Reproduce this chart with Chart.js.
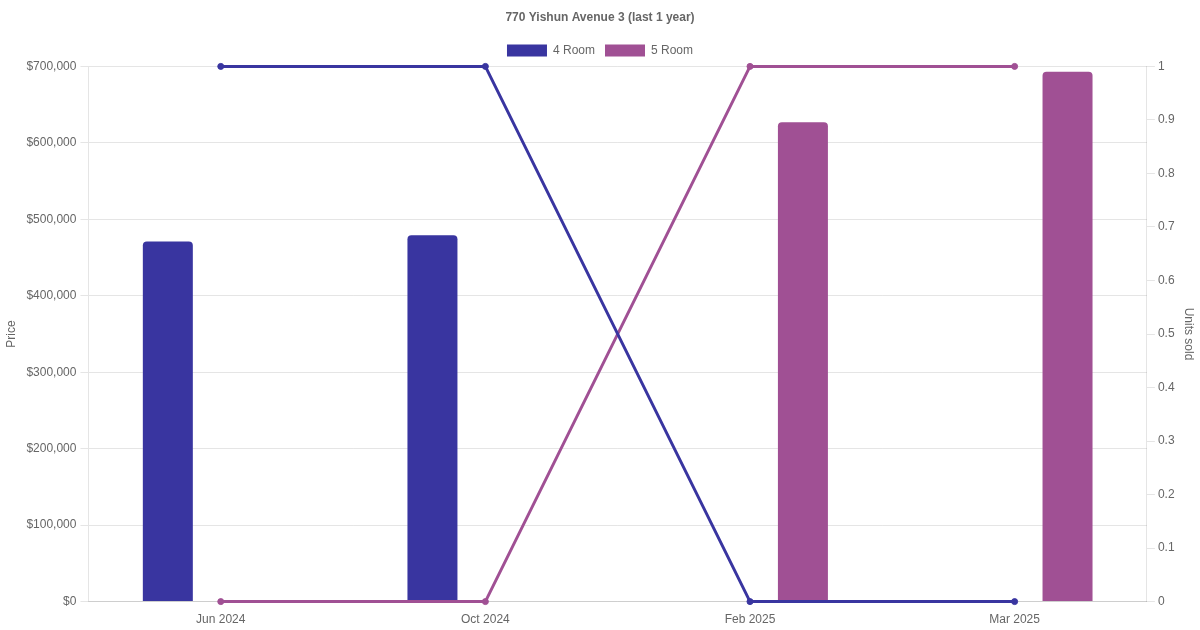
<!DOCTYPE html>
<html>
<head>
<meta charset="utf-8">
<script src="https://cdn.jsdelivr.net/npm/chart.js@4"></script>
<style>
  html, body { margin: 0; padding: 0; background: #fff; }
  #wrap { width: 1200px; height: 630px; }
</style>
</head>
<body>
<div id="wrap"><canvas id="myChart"></canvas></div>
<script>
const labels = ['Jun 2024', 'Oct 2024', 'Feb 2025', 'Mar 2025'];
const price4Room = [471000, 479000, null, null];
const price5Room = [null, null, 627000, 693000];
const units4Room = [1, 1, 0, 0];
const units5Room = [0, 0, 1, 1];

const color4 = 'rgb(57,53,160)';
const color5 = 'rgb(160,80,148)';

let dataChart = {
    labels: labels,
    datasets: [{
        type: 'line',
        label: '4 Room units',
        data: units4Room,
        yAxisID: 'y1',
        borderColor: color4,
        backgroundColor: color4,
        borderWidth: 3,
        pointRadius: 3,
        pointBorderWidth: 1,
        clip: false,
        order: 0
    },
    {
        type: 'line',
        label: '5 Room units',
        data: units5Room,
        yAxisID: 'y1',
        borderColor: color5,
        backgroundColor: color5,
        borderWidth: 3,
        pointRadius: 3,
        pointBorderWidth: 1,
        clip: false,
        order: 0
    },
    {
        type: 'bar',
        label: '4 Room',
        data: price4Room,
        yAxisID: 'y',
        backgroundColor: color4,
        borderColor: color4,
        borderRadius: 4,
        maxBarThickness: 50,
        order: 1
    },
    {
        type: 'bar',
        label: '5 Room',
        data: price5Room,
        yAxisID: 'y',
        backgroundColor: color5,
        borderColor: color5,
        borderRadius: 4,
        maxBarThickness: 50,
        order: 1
    }]
};

const config = {
    type: 'bar',
    data: dataChart,
    options: {
        responsive: true,
        maintainAspectRatio: false,
        animation: false,
        plugins: {
            title: {
                display: true,
                text: '770 Yishun Avenue 3 (last 1 year)',
                color: '#666',
                font: { size: 12, weight: 'bold' }
            },
            legend: {
                labels: {
                    color: '#666',
                    filter: (item) => item.text === '4 Room' || item.text === '5 Room'
                }
            }
        },
        scales: {
            x: {
                grid: { display: false },
                ticks: { color: '#666' }
            },
            y: {
                position: 'left',
                min: 0,
                max: 700000,
                ticks: {
                    stepSize: 100000,
                    color: '#666',
                    padding: 4,
                    callback: (v) => '$' + v.toLocaleString('en-US')
                },
                title: { display: true, text: 'Price', color: '#666' }
            },
            y1: {
                position: 'right',
                min: 0,
                max: 1,
                grid: { drawOnChartArea: false },
                ticks: {
                    stepSize: 0.1,
                    color: '#666',
                    callback: (v) => String(Math.round(v * 10) / 10)
                },
                title: { display: true, text: 'Units sold', color: '#666' }
            }
        }
    }
};

const myChart = new Chart(
    document.getElementById('myChart'),
    config
);
</script>
</body>
</html>
